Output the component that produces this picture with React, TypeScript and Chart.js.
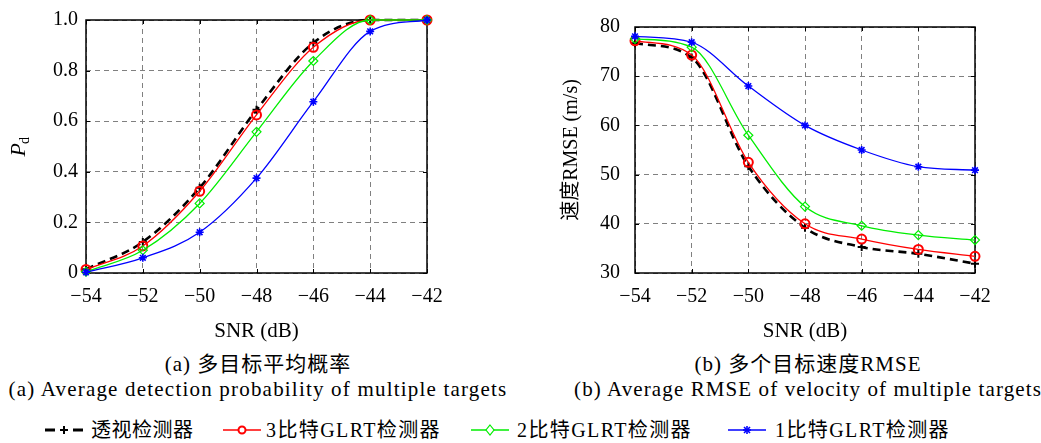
import React, { useEffect, useRef } from "react";
import { Chart, registerables } from "chart.js";

Chart.register(...registerables);

const SERIF = "'Liberation Serif', 'Noto Sans CJK SC', serif";
const LATIN = "'Liberation Serif', 'DejaVu Serif', serif";
Chart.defaults.font.family = LATIN;
Chart.defaults.color = "#000";

// ---------- data ----------
const snrDb = [-54, -52, -50, -48, -46, -44, -42];
const snrTicks = [-54, -52, -50, -48, -46, -44, -42];
const seriesNames = ["透视检测器", "3比特GLRT检测器", "2比特GLRT检测器", "1比特GLRT检测器"];

const pdPerspective = [0.015, 0.123, 0.337, 0.645, 0.91, 1.0, 1.0];
const pd3bit = [0.014, 0.107, 0.323, 0.625, 0.892, 1.0, 1.0];
const pd2bit = [0.005, 0.09, 0.275, 0.558, 0.838, 1.0, 1.0];
const pd1bit = [0.003, 0.06, 0.161, 0.375, 0.677, 0.955, 1.0];
const pdTicks = [0, 0.2, 0.4, 0.6, 0.8, 1.0];

const rmsePerspective = [76.7, 73.8, 51.7, 39.2, 35.3, 33.9, 31.9];
const rmse3bit = [77.2, 74.3, 52.5, 40.0, 36.9, 34.8, 33.4];
const rmse2bit = [77.6, 75.9, 58.0, 43.5, 39.6, 37.7, 36.7];
const rmse1bit = [78.1, 76.9, 68.0, 60.0, 55.0, 51.6, 50.9];
const rmseTicks = [30, 40, 50, 60, 70, 80];

const captionA = ["(a) 多目标平均概率", "(a) Average detection probability of multiple targets"];
const captionB = ["(b) 多个目标速度RMSE", "(b) Average RMSE of velocity of multiple targets"];

// ---------- styles ----------
const seriesStyles = [
  { color: "#000000", width: 2.6, dash: [8, 5], point: "cross", radius: 4, pw: 2 },
  { color: "#ff0000", width: 1.3, dash: [], point: "circle", radius: 4.5, pw: 2 },
  { color: "#00ee00", width: 1.3, dash: [], point: "rectRot", radius: 4.5, pw: 1.2 },
  { color: "#0000ff", width: 1.3, dash: [], point: "star", radius: 4, pw: 1.6 },
];

const minus = (v: number) => String(v).replace("-", "\u2212");

function makeDatasets(series: number[][]) {
  return series.map((vals, i) => {
    const s = seriesStyles[i];
    return {
      label: seriesNames[i],
      data: snrDb.map((x, j) => ({ x, y: vals[j] })),
      borderColor: s.color,
      borderWidth: s.width,
      borderDash: s.dash,
      cubicInterpolationMode: "monotone",
      pointStyle: s.point,
      pointRadius: s.radius,
      pointBorderWidth: s.pw,
      pointBorderColor: s.color,
      pointBackgroundColor: "rgba(255,255,255,0)",
      fill: false,
      clip: false,
      order: 4 - i,
    };
  });
}

const framePlugin = {
  id: "frame",
  beforeDatasetsDraw(chart: any) {
    const { ctx, chartArea: a, scales } = chart;
    ctx.save();
    ctx.strokeStyle = "#000";
    ctx.setLineDash([]);
    ctx.lineWidth = 1;
    const tl = 4;
    ctx.beginPath();
    scales.x.ticks.forEach((t: any) => {
      const px = Math.round(scales.x.getPixelForValue(t.value)) + 0.5;
      ctx.moveTo(px, a.bottom);
      ctx.lineTo(px, a.bottom - tl);
      ctx.moveTo(px, a.top);
      ctx.lineTo(px, a.top + tl);
    });
    scales.y.ticks.forEach((t: any) => {
      const py = Math.round(scales.y.getPixelForValue(t.value)) + 0.5;
      ctx.moveTo(a.left, py);
      ctx.lineTo(a.left + tl, py);
      ctx.moveTo(a.right, py);
      ctx.lineTo(a.right - tl, py);
    });
    ctx.stroke();
    ctx.lineWidth = 1.5;
    ctx.strokeRect(a.left, a.top, a.right - a.left, a.bottom - a.top);
    ctx.restore();
  },
};

const pdTitlePlugin = {
  id: "pdTitle",
  afterDraw(chart: any) {
    const { ctx, chartArea: a } = chart;
    const cy = (a.top + a.bottom) / 2;
    ctx.save();
    ctx.translate(25, cy + 10);
    ctx.rotate(-Math.PI / 2);
    ctx.fillStyle = "#000";
    ctx.textBaseline = "alphabetic";
    ctx.textAlign = "left";
    ctx.font = `italic 22px ${LATIN}`;
    ctx.fillText("P", 0, 0);
    const w = ctx.measureText("P").width;
    ctx.font = `14px ${LATIN}`;
    ctx.fillText("d", w - 1, 4);
    ctx.restore();
  },
};

function xScale() {
  return {
    type: "linear",
    min: -54,
    max: -42,
    afterBuildTicks: (s: any) => {
      s.ticks = snrTicks.map((v) => ({ value: v }));
    },
    afterFit: (s: any) => {
      s.height = 72;
    },
    grid: { color: "#808080", lineWidth: 1, drawTicks: false },
    border: { display: false, dash: [5, 4] },
    ticks: {
      autoSkip: false,
      maxRotation: 0,
      color: "#000",
      padding: 12,
      font: { family: LATIN, size: 20 },
      callback: (v: any) => minus(v),
    },
    title: {
      display: true,
      text: "SNR (dB)",
      color: "#000",
      font: { family: LATIN, size: 21 },
      padding: { top: 0, bottom: 1 },
    },
  };
}

function yScale(min: number, max: number, ticks: number[], width: number, pad: number, fmt: (v: number) => string, title: any) {
  return {
    type: "linear",
    min,
    max,
    afterBuildTicks: (s: any) => {
      s.ticks = ticks.map((v) => ({ value: v }));
    },
    afterFit: (s: any) => {
      s.width = width;
    },
    grid: { color: "#808080", lineWidth: 1, drawTicks: false },
    border: { display: false, dash: [5, 4] },
    ticks: {
      autoSkip: false,
      color: "#000",
      padding: pad,
      font: { family: LATIN, size: 20 },
      callback: (v: any) => fmt(Number(v)),
    },
    title,
  };
}

function ChartPanel(props: { kind: "pd" | "rmse" }) {
  const ref = useRef<HTMLCanvasElement | null>(null);
  useEffect(() => {
    if (!ref.current) return;
    const isPd = props.kind === "pd";
    const series = isPd
      ? [pdPerspective, pd3bit, pd2bit, pd1bit]
      : [rmsePerspective, rmse3bit, rmse2bit, rmse1bit];
    const y = isPd
      ? yScale(0, 1, pdTicks, 86, 8, (v) => (v === 0 ? "0" : v.toFixed(1)), { display: false })
      : yScale(30, 80, rmseTicks, 115, 15, (v) => String(v), {
          display: true,
          text: "速度RMSE (m/s)",
          color: "#000",
          font: { family: SERIF, size: 20 },
          padding: { top: 40, bottom: 0 },
        });
    const chart = new Chart(ref.current, {
      type: "line",
      data: { datasets: makeDatasets(series) as any },
      options: {
        responsive: false,
        animation: false,
        devicePixelRatio: 1,
        font: { family: LATIN },
        layout: {
          padding: isPd ? { left: 0, top: 11, right: 93, bottom: 0 } : { left: 0, top: 12, right: 66, bottom: 0 },
        },
        plugins: { legend: { display: false }, tooltip: { enabled: false } },
        scales: { x: xScale() as any, y: y as any },
      },
      plugins: isPd ? [framePlugin, pdTitlePlugin] : [framePlugin],
    });
    return () => {
      chart.destroy();
    };
  }, [props.kind]);
  const w = props.kind === "pd" ? 520 : 521;
  return <canvas ref={ref} width={w} height={345} style={{ width: w, height: 345, display: "block" }} />;
}

function LegendSymbol(props: { i: number }) {
  const s = seriesStyles[props.i];
  const cx = 19;
  const cy = 8;
  let marker: any = null;
  if (s.point === "cross") {
    marker = (
      <g stroke={s.color} strokeWidth={2}>
        <line x1={cx - 4} y1={cy} x2={cx + 4} y2={cy} />
        <line x1={cx} y1={cy - 4} x2={cx} y2={cy + 4} />
      </g>
    );
  } else if (s.point === "circle") {
    marker = <circle cx={cx} cy={cy} r={3.5} fill="white" stroke={s.color} strokeWidth={2} />;
  } else if (s.point === "rectRot") {
    marker = <polygon points={`${cx},${cy - 5} ${cx + 4},${cy} ${cx},${cy + 5} ${cx - 4},${cy}`} fill="white" stroke={s.color} strokeWidth={1.2} />;
  } else {
    marker = (
      <g stroke={s.color} strokeWidth={1.6}>
        <line x1={cx - 4} y1={cy} x2={cx + 4} y2={cy} />
        <line x1={cx} y1={cy - 4} x2={cx} y2={cy + 4} />
        <line x1={cx - 3} y1={cy - 3} x2={cx + 3} y2={cy + 3} />
        <line x1={cx - 3} y1={cy + 3} x2={cx + 3} y2={cy - 3} />
      </g>
    );
  }
  return (
    <svg width={38} height={16} style={{ display: "block" }}>
      <line
        x1={0}
        y1={cy}
        x2={38}
        y2={cy}
        stroke={s.color}
        strokeWidth={props.i === 0 ? 3 : 1.5}
        strokeDasharray={props.i === 0 ? "10 18" : undefined}
      />
      {marker}
    </svg>
  );
}

const legendSymbolX = [45, 223, 471, 728];
const legendTextX = [91, 266, 517, 775];

export default function App() {
  const text: any = { position: "absolute", fontFamily: SERIF, color: "#000", whiteSpace: "nowrap", lineHeight: "24px" };
  return (
    <div style={{ position: "absolute", left: 0, top: 0, width: 1041, height: 443, background: "#fff", overflow: "hidden" }}>
      <div style={{ position: "absolute", left: 0, top: 0 }}>
        <ChartPanel kind="pd" />
      </div>
      <div style={{ position: "absolute", left: 520, top: 0 }}>
        <ChartPanel kind="rmse" />
      </div>
      <div style={{ ...text, left: 0, width: 516, top: 352, textAlign: "center", fontSize: 21, letterSpacing: "1px" }}>{captionA[0]}</div>
      <div style={{ ...text, left: 0, width: 516, top: 377, textAlign: "center", fontSize: 21, letterSpacing: "1.2px" }}>{captionA[1]}</div>
      <div style={{ ...text, left: 548, width: 520, top: 352, textAlign: "center", fontSize: 21, letterSpacing: "1px" }}>{captionB[0]}</div>
      <div style={{ ...text, left: 548, width: 520, top: 377, textAlign: "center", fontSize: 21, letterSpacing: "1.1px" }}>{captionB[1]}</div>
      {seriesNames.map((n, i) => (
        <React.Fragment key={n}>
          <div style={{ position: "absolute", left: legendSymbolX[i], top: 422 }}>
            <LegendSymbol i={i} />
          </div>
          <div style={{ ...text, left: legendTextX[i], top: 418, fontSize: 20, letterSpacing: i === 0 ? "0.5px" : "1.4px" }}>{n}</div>
        </React.Fragment>
      ))}
    </div>
  );
}
